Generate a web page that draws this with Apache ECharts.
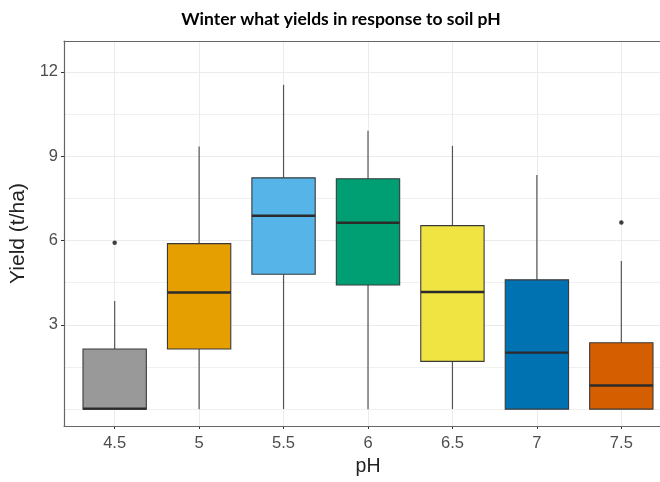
<!DOCTYPE html>
<html>
<head>
<meta charset="utf-8">
<script src="https://cdn.jsdelivr.net/npm/echarts@6/dist/echarts.min.js"></script>
<style>html,body{margin:0;padding:0;background:#fff}#chart{width:660px;height:482px}</style>
</head>
<body>
<div id="chart"></div>
<script>
const categories = ['4.5', '5', '5.5', '6', '6.5', '7', '7.5'];
const lowerWhisker = [0, 0, 0, 0, 0, 0, 0];
const q1 = [0, 2.14, 4.8, 4.42, 1.7, 0, 0];
const median = [0.02, 4.15, 6.88, 6.63, 4.17, 2.01, 0.84];
const q3 = [2.14, 5.89, 8.23, 8.2, 6.53, 4.6, 2.36];
const upperWhisker = [3.85, 9.35, 11.54, 9.91, 9.37, 8.33, 5.27];
const outlierCategory = ['4.5', '7.5'];
const outlierValue = [5.92, 6.64];
const boxColors = ['#999999', '#E69F00', '#56B4E9', '#009E73', '#F0E442', '#0072B2', '#D55E00'];
const yTicks = [3, 6, 9, 12];
const yMinor = [0, 1.5, 4.5, 7.5, 10.5];

const boxData = categories.map((c, i) => [i, lowerWhisker[i], q1[i], median[i], q3[i], upperWhisker[i]]);
const outlierData = outlierCategory.map((c, i) => [categories.indexOf(c), outlierValue[i]]);
const xIdx = categories.map((c, i) => i);

const chart = echarts.init(document.getElementById('chart'), null, {renderer: 'canvas'});
const labelFont = 'Liberation Sans';
const frame = {show: true, onZero: false, lineStyle: {color: '#666', width: 1.2}};
const frameAxis = (pos) => ({
  type: 'value', min: -0.6, max: pos === 'left' ? 13.1 : 6.6, position: pos, offset: 0, z: 10,
  axisLine: frame, axisTick: {show: false}, axisLabel: {show: false}, splitLine: {show: false}
});
chart.setOption({
  animation: false,
  backgroundColor: '#ffffff',
  title: {
    text: 'Winter what yields in response to soil pH',
    left: 336, top: 5, textAlign: 'center',
    textStyle: {fontFamily: 'Lato', fontWeight: 'bold', fontSize: 17.5, color: '#000'}
  },
  grid: {left: 64, top: 41, width: 608, height: 385, outerBoundsMode: 'none', containLabel: false, show: false},
  xAxis: [{
    type: 'value', min: -0.6, max: 6.6, position: 'bottom',
    name: 'pH', nameLocation: 'middle', nameGap: 31,
    nameTextStyle: {fontFamily: labelFont, fontSize: 19.5, color: '#222'},
    axisLine: {show: false, onZero: false},
    axisTick: {show: true, customValues: xIdx, length: 3, lineStyle: {color: '#333'}},
    axisLabel: {customValues: xIdx, formatter: v => categories[Math.round(v)], margin: 9, fontFamily: labelFont, fontSize: 16.5, color: '#4D4D4D'},
    splitLine: {show: true, lineStyle: {color: '#EBEBEB', width: 1}}
  }, frameAxis('top'), frameAxis('bottom')],
  yAxis: [{
    type: 'value', min: -0.6, max: 13.1, position: 'left',
    name: 'Yield (t/ha)', nameLocation: 'middle', nameGap: 24, nameRotate: 90,
    nameTextStyle: {fontFamily: labelFont, fontSize: 21, color: '#222'},
    axisLine: {show: false, onZero: false},
    axisTick: {show: true, customValues: yTicks, length: 3, lineStyle: {color: '#333'}},
    axisLabel: {customValues: yTicks, margin: 6, fontFamily: labelFont, fontSize: 16.5, color: '#4D4D4D'},
    splitLine: {show: true, lineStyle: {color: '#EBEBEB', width: 1}}
  }, frameAxis('left')],
  series: [
    {
      type: 'line',
      data: [],
      z: 1,
      silent: true,
      markLine: {
        z: 1,
        silent: true, symbol: 'none', label: {show: false},
        lineStyle: {color: '#F0F0F0', width: 1, type: 'solid'},
        data: yMinor.map(v => ({yAxis: v}))
      }
    },
    {
      type: 'custom',
      data: boxData,
      encode: {x: 0, y: [1, 2, 3, 4, 5]},
      z: 3,
      renderItem: function (params, api) {
        const x = api.value(0);
        const lo = api.coord([x, api.value(1)]);
        const b1 = api.coord([x, api.value(2)]);
        const md = api.coord([x, api.value(3)]);
        const b3 = api.coord([x, api.value(4)]);
        const hi = api.coord([x, api.value(5)]);
        const w = api.size([0.75, 0])[0];
        const cx = lo[0];
        const stroke = '#3a3a3a';
        return {
          type: 'group',
          children: [
            {type: 'line', shape: {x1: cx, y1: hi[1], x2: cx, y2: b3[1]}, style: {stroke: '#555', lineWidth: 1.2}},
            {type: 'line', shape: {x1: cx, y1: b1[1], x2: cx, y2: lo[1]}, style: {stroke: '#555', lineWidth: 1.2}},
            {type: 'rect', shape: {x: cx - w / 2, y: b3[1], width: w, height: b1[1] - b3[1]}, style: {fill: boxColors[params.dataIndex], stroke: stroke, lineWidth: 1.1}},
            {type: 'line', shape: {x1: cx - w / 2, y1: md[1], x2: cx + w / 2, y2: md[1]}, style: {stroke: '#2b2b2b', lineWidth: 2.4}}
          ]
        };
      }
    },
    {
      type: 'scatter',
      data: outlierData,
      symbol: 'circle', symbolSize: 4.5,
      itemStyle: {color: '#111'},
      z: 4
    }
  ]
});
</script>
</body>
</html>
